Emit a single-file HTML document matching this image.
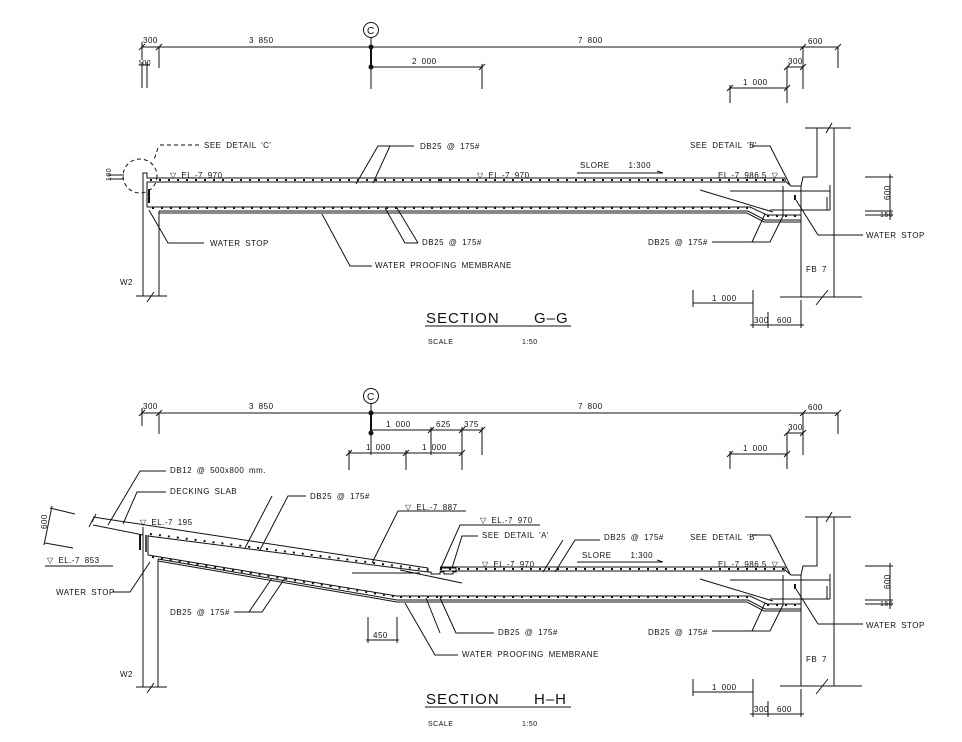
<!DOCTYPE html>
<html><head><meta charset="utf-8"><style>
html,body{margin:0;padding:0;background:#fff}
svg{display:block}
text{font-family:"Liberation Sans",sans-serif;font-size:8px;fill:#111;stroke:none;letter-spacing:0.5px;word-spacing:2px}
.t{font-size:15px;letter-spacing:1px;word-spacing:0}
.s{font-size:7px}
</style></head><body>
<svg width="962" height="742" viewBox="0 0 962 742" xmlns="http://www.w3.org/2000/svg" stroke="#111" fill="none" stroke-width="1">
<defs>
<g id="rightpart">
  <line x1="440" y1="178" x2="785" y2="178"/>
  <line x1="440" y1="182" x2="785" y2="182"/>
  <line x1="440" y1="180" x2="785" y2="180" stroke-width="2" stroke-dasharray="2 7"/>
  <polyline points="785,178 785,181 791,186 801,186 803,177 817,177 817,128"/>
  <line x1="805" y1="128" x2="851" y2="128"/>
  <line x1="826" y1="133" x2="832" y2="123"/>
  <line x1="834" y1="128" x2="834" y2="297"/>
  <line x1="801" y1="186" x2="801" y2="297"/>
  <line x1="780" y1="297" x2="862" y2="297"/>
  <line x1="816" y1="305" x2="828" y2="290"/>
  <line x1="730" y1="191" x2="830" y2="191"/>
  <line x1="770" y1="210" x2="830" y2="210"/>
  <line x1="830" y1="185" x2="830" y2="210"/>
  <line x1="827" y1="197" x2="827" y2="210"/>
  <line x1="783" y1="186" x2="783" y2="217"/>
  <line x1="795" y1="195" x2="795" y2="200" stroke-width="2"/>
  <polyline points="440,207 750,207 767,215 801,215"/>
  <polyline points="440,211 748,211 765,220 801,220"/>
  <polyline points="440,213 747,213 764,222 801,222"/>
  <line x1="440" y1="208" x2="750" y2="208" stroke-width="2" stroke-dasharray="2 7"/>
  <line x1="767" y1="216" x2="800" y2="216" stroke-width="2" stroke-dasharray="2 7"/>
  <line x1="700" y1="190" x2="773" y2="212"/>
  <line x1="865" y1="177" x2="893" y2="177"/>
  <line x1="865" y1="211" x2="893" y2="211"/>
  <line x1="865" y1="215" x2="893" y2="215"/>
  <line x1="890" y1="174" x2="890" y2="220"/>
  <line x1="577" y1="173" x2="663" y2="173"/>
  <line x1="657" y1="171" x2="663" y2="173"/>
  <polyline points="752,146 770,146 790,185"/>
  <polyline points="863,235 818,235 796,200"/>
  <polyline points="712,242 770,242 783,216"/>
  <line x1="752" y1="242" x2="765" y2="214"/>
  <line x1="693" y1="303" x2="753" y2="303"/>
  <line x1="693" y1="290" x2="693" y2="307"/>
  <line x1="753" y1="290" x2="753" y2="328"/>
  <line x1="768" y1="312" x2="768" y2="328"/>
  <line x1="801" y1="300" x2="801" y2="328"/>
  <line x1="750" y1="325" x2="804" y2="325"/>
</g>
<g id="topdims">
  <line x1="142" y1="47" x2="838" y2="47"/>
  <line x1="159" y1="47" x2="159" y2="68"/>
  <line x1="142" y1="42" x2="142" y2="60"/>
  <line x1="803" y1="47" x2="803" y2="89"/>
  <line x1="838" y1="47" x2="838" y2="68"/>
  <line x1="371" y1="38" x2="371" y2="89"/>
  <line x1="371" y1="47" x2="371" y2="67" stroke-width="2"/>
  <circle cx="371" cy="47" r="2" fill="#111"/>
  <circle cx="371" cy="67" r="2" fill="#111"/>
  <circle cx="371" cy="30" r="7.5"/>
  <line x1="787" y1="67" x2="803" y2="67"/>
  <line x1="787" y1="67" x2="787" y2="103"/>
  <line x1="730" y1="88" x2="787" y2="88"/>
  <line x1="730" y1="85" x2="730" y2="103"/>
  <line x1="139" y1="50" x2="145" y2="44"/><line x1="156" y1="50" x2="162" y2="44"/>
  <line x1="800" y1="50" x2="806" y2="44"/><line x1="835" y1="50" x2="841" y2="44"/>
  <line x1="784" y1="70" x2="790" y2="64"/><line x1="800" y1="70" x2="806" y2="64"/>
  <line x1="727" y1="91" x2="733" y2="85"/><line x1="784" y1="91" x2="790" y2="85"/>
</g>
</defs>

<use href="#topdims"/>
<line x1="142" y1="62" x2="142" y2="88"/>
<line x1="147" y1="62" x2="147" y2="88"/>
<line x1="139" y1="65" x2="150" y2="65"/>
<line x1="371" y1="67" x2="482" y2="67"/>
<line x1="482" y1="64" x2="482" y2="89"/>
<line x1="479" y1="70" x2="485" y2="64"/>
<text x="143" y="43">300</text><text x="249" y="43">3 850</text><text x="578" y="43">7 800</text><text x="808" y="44">600</text>
<text x="138" y="65" class="s">100</text><text x="412" y="64">2 000</text><text x="788" y="64">300</text><text x="743" y="85">1 000</text>
<text x="367" y="34" style="font-size:10px">C</text>

<polyline points="143,296 143,173 147,173 147,178 440,178"/>
<line x1="147" y1="182" x2="440" y2="182"/>
<line x1="150" y1="180" x2="440" y2="180" stroke-width="2" stroke-dasharray="2 7"/>
<line x1="147" y1="182" x2="147" y2="207"/>
<line x1="149" y1="189" x2="149" y2="203" stroke-width="2"/>
<line x1="147" y1="207" x2="440" y2="207"/>
<line x1="152" y1="208" x2="440" y2="208" stroke-width="2" stroke-dasharray="2 7"/>
<line x1="159" y1="211" x2="440" y2="211"/>
<line x1="159" y1="213" x2="440" y2="213"/>
<line x1="159" y1="211" x2="159" y2="296"/>
<line x1="136" y1="296" x2="167" y2="296"/>
<line x1="147" y1="302" x2="154" y2="292"/>
<circle cx="140" cy="176" r="17" stroke-dasharray="4 3"/>
<line x1="108" y1="175" x2="124" y2="175"/><line x1="108" y1="179" x2="124" y2="179"/>
<line x1="160" y1="145" x2="200" y2="145" stroke-dasharray="4 3"/>
<line x1="158" y1="148" x2="154" y2="160" stroke-dasharray="4 3"/>
<use href="#rightpart"/>
<polyline points="414,146 378,146 356,184"/><line x1="390" y1="146" x2="373" y2="183"/>
<polyline points="204,243 168,243 149,210"/>
<polyline points="418,243 405,243 385,208"/><line x1="418" y1="243" x2="397" y2="208"/>
<polyline points="372,266 350,266 322,214"/>
<text x="204" y="148">SEE DETAIL 'C'</text>
<text x="104" y="180" class="s" transform="rotate(-90 108 177)">100</text>
<text x="170" y="178">▽ EL.-7 970</text>
<text x="420" y="149">DB25 @ 175#</text>
<text x="477" y="178">▽ EL.-7 970</text>
<text x="580" y="168">SLORE&#160;&#160;&#160;&#160;1:300</text>
<text x="690" y="148">SEE DETAIL 'B'</text>
<text x="718" y="178">EL.-7 986.5 ▽</text>
<text x="210" y="246">WATER STOP</text>
<text x="422" y="245">DB25 @ 175#</text>
<text x="648" y="245">DB25 @ 175#</text>
<text x="375" y="268">WATER PROOFING MEMBRANE</text>
<text x="866" y="238">WATER STOP</text>
<text x="880" y="200" transform="rotate(-90 885 195)">600</text>
<text x="880" y="217" class="s">150</text>
<text x="806" y="272">FB 7</text>
<text x="120" y="285">W2</text>
<text x="712" y="301">1 000</text>
<text x="754" y="323">300</text><text x="777" y="323">600</text>
<text x="426" y="323" class="t">SECTION</text><text x="534" y="323" class="t">G–G</text>
<line x1="425" y1="326" x2="571" y2="326"/>
<text x="428" y="344" class="s">SCALE</text><text x="522" y="344" class="s">1:50</text>

<use href="#topdims" transform="translate(0,366)"/>
<line x1="371" y1="430" x2="482" y2="430"/>
<line x1="431" y1="427" x2="431" y2="455"/>
<line x1="462" y1="427" x2="462" y2="470"/>
<line x1="482" y1="427" x2="482" y2="455"/>
<line x1="349" y1="453" x2="462" y2="453"/>
<line x1="349" y1="450" x2="349" y2="470"/>
<line x1="406" y1="450" x2="406" y2="470"/>
<line x1="428" y1="433" x2="434" y2="427"/><line x1="459" y1="433" x2="465" y2="427"/><line x1="479" y1="433" x2="485" y2="427"/>
<line x1="346" y1="456" x2="352" y2="450"/><line x1="403" y1="456" x2="409" y2="450"/><line x1="459" y1="456" x2="465" y2="450"/>
<text x="143" y="409">300</text><text x="249" y="409">3 850</text><text x="578" y="409">7 800</text><text x="808" y="410">600</text>
<text x="386" y="427">1 000</text><text x="436" y="427">625</text><text x="464" y="427">375</text>
<text x="366" y="450">1 000</text><text x="422" y="450">1 000</text>
<text x="788" y="430">300</text><text x="743" y="451">1 000</text>
<text x="367" y="400" style="font-size:10px">C</text>

<line x1="93" y1="517" x2="428" y2="568"/>
<line x1="93" y1="525" x2="143" y2="535"/>
<line x1="148" y1="536" x2="428" y2="572"/>
<line x1="150" y1="534" x2="428" y2="570" stroke-width="2" stroke-dasharray="2 7"/>
<line x1="92" y1="522" x2="96" y2="514"/><line x1="89" y1="527" x2="93" y2="519"/>
<polyline points="428,568 428,572 431,572 431,574 440,574 440,572 444,572 444,574 453,574 453,572 456,572 456,568 440,568"/>
<line x1="352" y1="573" x2="420" y2="573"/>
<line x1="400" y1="570" x2="462" y2="583"/>
<line x1="143" y1="527" x2="143" y2="687"/>
<line x1="148" y1="535" x2="148" y2="555"/>
<line x1="140" y1="535" x2="140" y2="550" stroke-width="2"/>
<line x1="146" y1="535" x2="146" y2="552" stroke-width="1.5"/>
<line x1="148" y1="555" x2="397" y2="596"/>
<line x1="152" y1="557" x2="397" y2="597" stroke-width="2" stroke-dasharray="2 7"/>
<line x1="158" y1="559" x2="397" y2="600"/>
<line x1="158" y1="561" x2="397" y2="602"/>
<line x1="397" y1="596" x2="440" y2="596"/>
<line x1="397" y1="600" x2="440" y2="600"/>
<line x1="397" y1="602" x2="440" y2="602"/>
<line x1="400" y1="597" x2="440" y2="597" stroke-width="2" stroke-dasharray="2 7"/>
<line x1="158" y1="559" x2="158" y2="687"/>
<line x1="136" y1="687" x2="167" y2="687"/>
<line x1="147" y1="693" x2="154" y2="683"/>
<use href="#rightpart" transform="translate(0,389)"/>
<line x1="50" y1="508" x2="75" y2="514"/><line x1="45" y1="543" x2="73" y2="548"/>
<line x1="52" y1="506" x2="44" y2="545"/>
<line x1="45" y1="566" x2="113" y2="566"/>
<line x1="368" y1="617" x2="368" y2="643"/><line x1="397" y1="617" x2="397" y2="643"/>
<line x1="366" y1="640" x2="399" y2="640"/>
<polyline points="166,471 140,471 108,525"/>
<polyline points="166,492 137,492 123,524"/>
<polyline points="306,496 288,496 260,550"/><line x1="272" y1="496" x2="245" y2="548"/>
<polyline points="404,511 398,511 372,563"/><line x1="398" y1="511" x2="466" y2="511"/>
<polyline points="478,525 460,525 440,570"/><line x1="474" y1="525" x2="540" y2="525"/>
<polyline points="478,536 462,536 452,568"/>
<polyline points="600,540 575,540 555,572"/><line x1="563" y1="540" x2="543" y2="572"/>
<polyline points="112,592 130,592 150,562"/>
<polyline points="234,612 262,612 285,578"/><line x1="249" y1="612" x2="272" y2="578"/>
<polyline points="494,633 456,633 440,598"/><line x1="440" y1="633" x2="426" y2="598"/>
<polyline points="458,655 435,655 405,603"/>
<text x="170" y="473">DB12 @ 500x800 mm.</text>
<text x="170" y="494">DECKING SLAB</text>
<text x="310" y="499">DB25 @ 175#</text>
<text x="140" y="525">▽ EL.-7 195</text>
<text x="405" y="510">▽ EL.-7 887</text>
<text x="480" y="523">▽ EL.-7 970</text>
<text x="482" y="538">SEE DETAIL 'A'</text>
<text x="604" y="540">DB25 @ 175#</text>
<text x="690" y="540">SEE DETAIL 'B'</text>
<text x="482" y="567">▽ EL.-7 970</text>
<text x="582" y="558">SLORE&#160;&#160;&#160;&#160;1:300</text>
<text x="718" y="567">EL.-7 986.5 ▽</text>
<text x="38" y="530" transform="rotate(-90 42 525)">600</text>
<text x="47" y="563">▽ EL.-7 853</text>
<text x="56" y="595">WATER STOP</text>
<text x="170" y="615">DB25 @ 175#</text>
<text x="373" y="638">450</text>
<text x="498" y="635">DB25 @ 175#</text>
<text x="648" y="635">DB25 @ 175#</text>
<text x="462" y="657">WATER PROOFING MEMBRANE</text>
<text x="866" y="628">WATER STOP</text>
<text x="880" y="589" transform="rotate(-90 885 584)">600</text>
<text x="880" y="606" class="s">150</text>
<text x="806" y="662">FB 7</text>
<text x="120" y="677">W2</text>
<text x="712" y="690">1 000</text>
<text x="754" y="712">300</text><text x="777" y="712">600</text>
<text x="426" y="704" class="t">SECTION</text><text x="534" y="704" class="t">H–H</text>
<line x1="425" y1="707" x2="571" y2="707"/>
<text x="428" y="726" class="s">SCALE</text><text x="522" y="726" class="s">1:50</text>
</svg>
</body></html>
